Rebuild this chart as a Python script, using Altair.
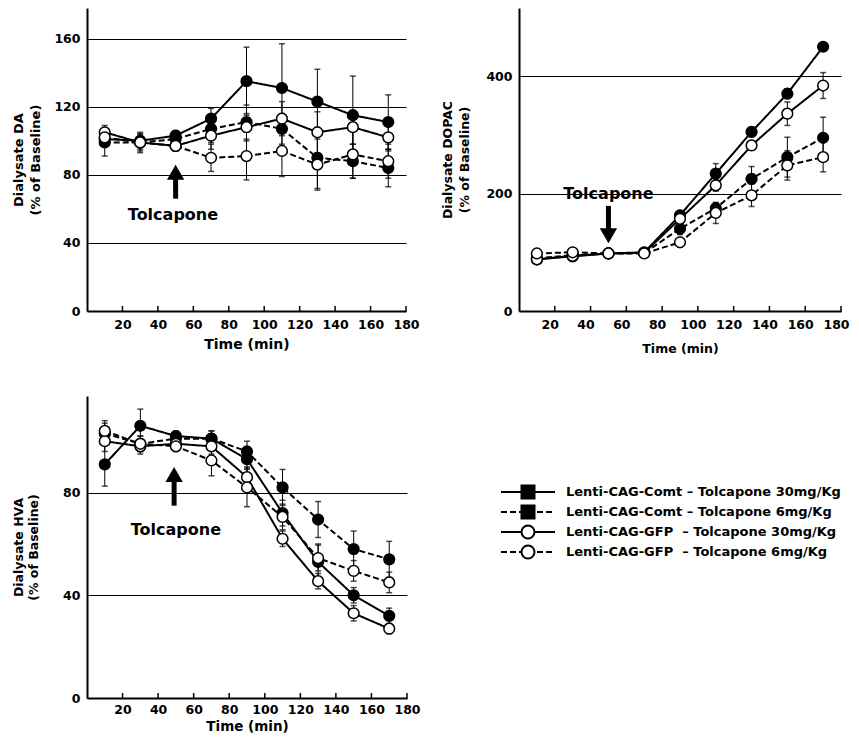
import altair as alt
import pandas as pd

FONT = "DejaVu Sans"

# ---------------- data ----------------
TIMES = [10, 30, 50, 70, 90, 110, 130, 150, 170]
KEYS = ["comt30", "comt6", "gfp30", "gfp6"]
LEGEND_LABELS = [
    "Lenti-CAG-Comt \u2013 Tolcapone 30mg/Kg",
    "Lenti-CAG-Comt \u2013 Tolcapone 6mg/Kg",
    "Lenti-CAG-GFP\u00a0 \u2013 Tolcapone 30mg/Kg",
    "Lenti-CAG-GFP\u00a0 \u2013 Tolcapone 6mg/Kg",
]
X_TICKS = [20, 40, 60, 80, 100, 120, 140, 160, 180]

# Panel A: Dialysate DA
DA_COMT30 = [101, 100, 103, 113, 135, 131, 123, 115, 111]
DA_COMT6 = [99, 99, 101, 107, 111, 107, 90, 88, 84]
DA_GFP30 = [105, 99, 97, 103, 108, 113, 105, 108, 102]
DA_GFP6 = [102, 99, 97, 90, 91, 94, 86, 92, 88]
DA_COMT30_SE = [4, 4, 3, 6, 20, 26, 19, 23, 16]
DA_COMT6_SE = [8, 5, 3, 8, 10, 9, 18, 10, 11]
DA_GFP30_SE = [4, 6, 3, 8, 8, 10, 12, 10, 8]
DA_GFP6_SE = [4, 4, 3, 8, 14, 15, 15, 14, 10]

# Panel B: Dialysate DOPAC
DOPAC_COMT30 = [88, 93, 98, 100, 163, 234, 305, 370, 450]
DOPAC_COMT6 = [90, 95, 98, 99, 140, 175, 225, 262, 295]
DOPAC_GFP30 = [88, 94, 98, 99, 157, 214, 282, 336, 384]
DOPAC_GFP6 = [98, 100, 98, 98, 117, 167, 197, 248, 262]
DOPAC_COMT30_SE = [4, 4, 3, 4, 8, 17, 8, 8, 6]
DOPAC_COMT6_SE = [5, 5, 3, 4, 10, 8, 21, 34, 35]
DOPAC_GFP30_SE = [4, 4, 3, 4, 8, 10, 8, 20, 22]
DOPAC_GFP6_SE = [5, 4, 3, 4, 8, 18, 19, 25, 25]

# Panel C: Dialysate HVA
HVA_COMT30 = [91, 106, 102, 101, 93, 72, 53, 40, 32]
HVA_COMT6 = [103, 99, 101, 101, 96, 82, 69.5, 58, 54]
HVA_GFP30 = [100, 98, 99, 98, 86, 62, 45.5, 33, 27]
HVA_GFP6 = [104, 99, 98, 92.5, 82, 70.5, 54.5, 49.5, 45]
HVA_COMT30_SE = [8.5, 6.5, 2, 3, 4, 5, 7, 3, 3]
HVA_COMT6_SE = [4, 3, 2, 3, 4, 7, 7, 7, 7]
HVA_GFP30_SE = [4, 3, 2, 3, 4, 3, 3, 3, 2]
HVA_GFP6_SE = [4, 3, 2, 6, 7.5, 5, 5, 4, 4]

# Tolcapone annotations: arrow x, shaft start/end, head centre, text position
ARROW_A = dict(x=50, y1=66, y2=80, head=81.5, tx=48.5, ty=56.6, dir="up")
ARROW_B = dict(x=50, y1=179, y2=135, head=128, tx=50, ty=200, dir="down")
ARROW_C = dict(x=49, y1=74.9, y2=85, head=87, tx=50, ty=65.6, dir="up")

# ---------------- helpers ----------------
def long_df(vals, ses):
    rows = []
    for k, vs, ss in zip(KEYS, vals, ses):
        for t, v, s in zip(TIMES, vs, ss):
            rows.append(dict(t=t, v=v, lo=v - s, hi=v + s, s=k))
    return pd.DataFrame(rows)


dash_scale = alt.Scale(domain=KEYS, range=[[1, 0], [6, 3], [1, 0], [6, 3]])
fill_scale = alt.Scale(domain=KEYS, range=["black", "black", "white", "white"])


def panel(df, arrow, ydomain, yticks, ytitle, width, height,
          ytitle_size, ytitle_pad, ytitle_lh, xtitle_size, xlabel_pad, xtitle_pad, xlabel_off):
    xscale = alt.Scale(domain=[0, 180], nice=False, zero=False)
    yscale = alt.Scale(domain=ydomain, nice=False)
    xaxis = alt.Axis(values=X_TICKS, title="Time (min)", tickSize=0, labelPadding=xlabel_pad,
                     titlePadding=xtitle_pad, labelFont=FONT, labelFontSize=12.5,
                     labelFontWeight="bold", titleFont=FONT, titleFontSize=xtitle_size,
                     titleFontWeight="bold", grid=False, domainColor="black",
                     domainWidth=2, labelColor="black", titleColor="black",
                     labelOverlap=False, labelFlush=False, labelOffset=xlabel_off)
    yaxis = alt.Axis(values=yticks, title=ytitle, grid=True, gridColor="black",
                     gridWidth=1.2, tickSize=0, labelPadding=7, titlePadding=ytitle_pad,
                     titleLineHeight=ytitle_lh, labelFont=FONT, labelFontSize=12.5,
                     labelFontWeight="bold", titleFont=FONT, titleFontSize=ytitle_size,
                     titleFontWeight="bold", domainColor="black", domainWidth=2,
                     labelColor="black", titleColor="black")

    def X(f):
        return alt.X(f, type="quantitative", scale=xscale, axis=xaxis)

    def Y(f):
        return alt.Y(f, type="quantitative", scale=yscale, axis=yaxis)

    base = alt.Chart(df)
    err = base.mark_rule(color="black", strokeWidth=1).encode(
        x=X("t"), y=Y("lo"), y2="hi")
    cap_lo = base.mark_tick(color="black", orient="horizontal", size=6, thickness=1.5).encode(
        x=X("t"), y=Y("lo"))
    cap_hi = base.mark_tick(color="black", orient="horizontal", size=6, thickness=1.5).encode(
        x=X("t"), y=Y("hi"))
    lines = base.mark_line(color="black", strokeWidth=2).encode(
        x=X("t"), y=Y("v"),
        strokeDash=alt.StrokeDash("s:N", scale=dash_scale, legend=None),
        detail="s:N")
    pts = base.mark_point(shape="circle", size=115, stroke="black", strokeWidth=1.5,
                          opacity=1, filled=False).encode(
        x=X("t"), y=Y("v"),
        fill=alt.Fill("s:N", scale=fill_scale, legend=None))

    tick_df = pd.DataFrame({"t": X_TICKS})
    inward = alt.Chart(tick_df).mark_rule(color="black", strokeWidth=1.5).encode(
        x=X("t"), y=alt.value(height), y2=alt.value(height - 5))

    adf = pd.DataFrame([arrow])
    shaft = alt.Chart(adf).mark_rule(color="black", strokeWidth=5).encode(
        x=X("x"), y=Y("y1"), y2="y2")
    head = alt.Chart(adf).mark_point(
        shape="triangle-up" if arrow["dir"] == "up" else "triangle-down",
        filled=True, color="black", size=300, opacity=1).encode(x=X("x"), y=Y("head"))
    txt = alt.Chart(adf).mark_text(text="Tolcapone", font=FONT, fontSize=16,
                                   fontWeight="bold", color="black",
                                   align="center", baseline="middle").encode(
        x=X("tx"), y=Y("ty"))

    return alt.layer(inward, err, cap_lo, cap_hi, lines, pts, shaft, head, txt).properties(
        width=width, height=height)


df_a = long_df([DA_COMT30, DA_COMT6, DA_GFP30, DA_GFP6],
               [DA_COMT30_SE, DA_COMT6_SE, DA_GFP30_SE, DA_GFP6_SE])
df_b = long_df([DOPAC_COMT30, DOPAC_COMT6, DOPAC_GFP30, DOPAC_GFP6],
               [DOPAC_COMT30_SE, DOPAC_COMT6_SE, DOPAC_GFP30_SE, DOPAC_GFP6_SE])
df_c = long_df([HVA_COMT30, HVA_COMT6, HVA_GFP30, HVA_GFP6],
               [HVA_COMT30_SE, HVA_COMT6_SE, HVA_GFP30_SE, HVA_GFP6_SE])

pa = panel(df_a, ARROW_A, [0, 178], [0, 40, 80, 120, 160],
           ["Dialysate DA", "(% of Baseline)"], 319, 303, 13, 11, 17, 14, 7, 7, 0)
pb = panel(df_b, ARROW_B, [0, 516], [0, 200, 400],
           ["Dialysate DOPAC", "(% of Baseline)"], 322, 303, 12.5, 14, 17, 12.5, 7, 12, -5)
pc = panel(df_c, ARROW_C, [0, 117.6], [0, 40, 80],
           ["Dialysate HVA", "(% of Baseline)"], 320, 302, 12.5, 22, 15, 13.5, 5, 4, 0)

# ---------------- legend ----------------
leg_df = pd.DataFrame({"s": KEYS, "label": LEGEND_LABELS})
ly = alt.Y("s:N", scale=alt.Scale(domain=KEYS, range=[86, 166], padding=0), axis=None)
leg_line = alt.Chart(leg_df).mark_rule(color="black", strokeWidth=2).encode(
    x=alt.value(9), x2=alt.value(63), y=ly,
    strokeDash=alt.StrokeDash("s:N", scale=dash_scale, legend=None))
leg_pt = alt.Chart(leg_df).mark_point(stroke="black", strokeWidth=2, opacity=1).encode(
    x=alt.value(36), y=ly,
    shape=alt.Shape("s:N", scale=alt.Scale(domain=KEYS, range=["square", "square", "circle", "circle"]), legend=None),
    size=alt.Size("s:N", scale=alt.Scale(domain=KEYS, range=[169, 169, 300, 300]), legend=None),
    fill=alt.Fill("s:N", scale=fill_scale, legend=None))
leg_txt = alt.Chart(leg_df).mark_text(font=FONT, fontSize=13, fontWeight="bold",
                                      color="black", align="left", baseline="middle").encode(
    x=alt.value(74), y=ly, text="label:N")
legend = alt.layer(leg_line, leg_pt, leg_txt).properties(width=340, height=302)

row1 = alt.hconcat(pa, pb, spacing=113, bounds="flush")
row2 = alt.hconcat(pc, legend, spacing=85, bounds="flush")
chart = alt.vconcat(row1, row2, spacing=41).properties(
    padding={"left": 4, "top": 0, "right": 0, "bottom": 0}
).resolve_scale(fill="independent", strokeDash="independent", shape="independent", size="independent"
).configure(font=FONT, view=alt.ViewConfig(stroke=None))

chart.save("out.html", embed_options={"renderer": "svg", "actions": False})
